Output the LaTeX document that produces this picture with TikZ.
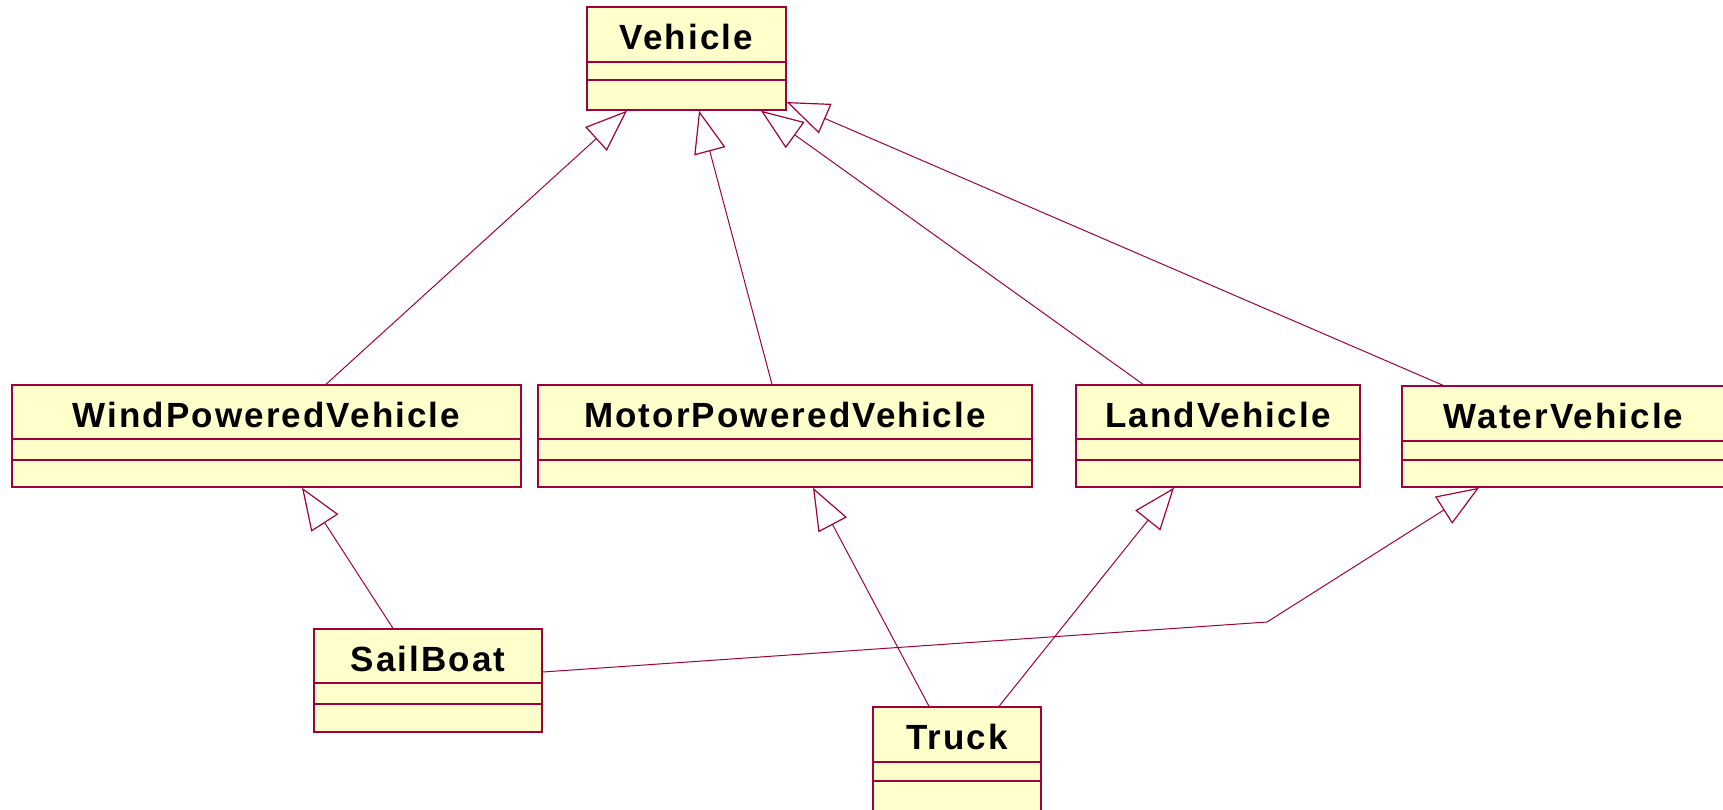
\documentclass[tikz,border=0pt]{standalone}
\usepackage{fontspec}
\newfontfamily\classfont{Liberation Sans}[LetterSpace=6]
\usetikzlibrary{arrows.meta,fit}

\definecolor{umlline}{HTML}{A0003C}
\definecolor{umlfill}{HTML}{FFFFCC}

\tikzset{
  classbox/.style={draw=umlline, fill=umlfill, line width=1.4pt, inner sep=0pt},
  compsep/.style={draw=umlline, line width=1.2pt},
  classname/.style={anchor=base, inner sep=0pt,
    font=\classfont\bfseries\fontsize{35}{40}\selectfont},
  gen/.style={draw=umlline, line width=1pt,
    -{Triangle[open, length=42pt, width=32pt, line width=1.2pt]}},
}

% #1 name, (#2,#3) top-left, (#4,#5) bottom-right, #6 #7 compartment rules, #8 title
\newcommand{\umlclass}[8]{%
  \coordinate (#1-nw) at (#2,#3);
  \coordinate (#1-se) at (#4,#5);
  \node[classbox, fit=(#1-nw)(#1-se)] (#1) {};
  \draw[compsep] (#1.west |- 0,#6) -- (#1.east |- 0,#6);
  \draw[compsep] (#1.west |- 0,#7) -- (#1.east |- 0,#7);
  \node[classname] (#1-title) at ([yshift=-43pt]#1.north) {#8};
}

\begin{document}
\begin{tikzpicture}[x=1pt, y=-1pt]
  \fill[white] (0,0) rectangle (1723,809);
  \useasboundingbox (0,0) rectangle (1723,809);
  \clip (0,0) rectangle (1723,809);

  \umlclass{veh}{587}{7}{786}{110}{62}{80}{Vehicle}
  \umlclass{wind}{12}{385}{521}{487}{439}{460}{WindPoweredVehicle}
  \umlclass{motor}{538}{385}{1032}{487}{439}{460}{MotorPoweredVehicle}
  \umlclass{land}{1076}{385}{1360}{487}{439}{460}{LandVehicle}
  \umlclass{water}{1402}{386}{1725}{487}{441}{460}{WaterVehicle}
  \umlclass{sail}{314}{629}{542}{732}{683}{704}{SailBoat}
  \umlclass{truck}{873}{707}{1041}{840}{762}{781}{Truck}

  \coordinate (bend) at (1267,622);

  \draw[gen] (wind.north -| 326,0) -- (veh.south -| 627,0);
  \draw[gen] (motor.north -| 772,0) -- (veh.south -| 699,0);
  \draw[gen] (land.north -| 1143,0) -- (veh.south -| 761,0);
  \draw[gen] (water.north -| 1443,0) -- (veh.east |- 0,102);

  \draw[gen] (sail.north -| 393,0) -- (wind.south -| 302,0);
  \draw[gen] (truck.north -| 929,0) -- (motor.south -| 813,0);
  \draw[gen] (truck.north -| 999,0) -- (land.south -| 1174,0);
  \draw[gen] (sail.east |- 0,672) -- (bend) -- (water.south -| 1479,0);
\end{tikzpicture}
\end{document}
